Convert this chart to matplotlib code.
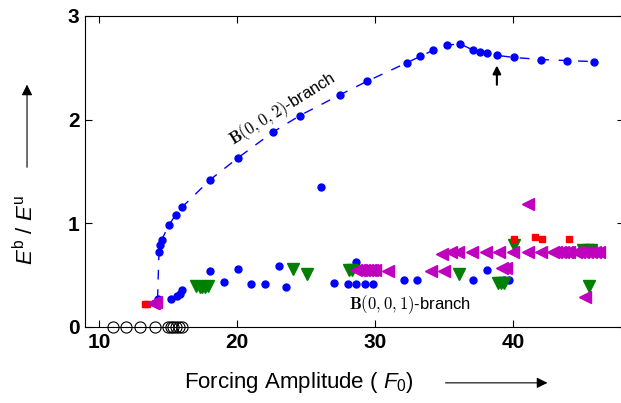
import numpy as np
import matplotlib
matplotlib.use("Agg")
import matplotlib.pyplot as plt

plt.rcParams['font.family'] = ['Liberation Sans', 'DejaVu Sans']
plt.rcParams['mathtext.fontset'] = 'custom'
plt.rcParams['mathtext.rm'] = 'Liberation Sans'
plt.rcParams['mathtext.it'] = 'Liberation Sans:italic'
plt.rcParams['mathtext.bf'] = 'Liberation Sans:bold'

# B(0,0,2) branch (dashed)
f_up = [14.25, 14.35, 14.45, 14.55, 15.05, 15.55, 16.05, 18.05, 20.05, 22.6, 24.55,
        27.45, 29.4, 32.3, 33.25, 34.2, 35.2, 36.15, 37.1, 37.6, 38.1, 38.8,
        40.05, 42.0, 43.9, 45.85]
e_up = [0.27, 0.72, 0.79, 0.84, 0.98, 1.08, 1.16, 1.42, 1.63, 1.88, 2.04,
        2.24, 2.37, 2.55, 2.61, 2.67, 2.72, 2.73, 2.67, 2.65, 2.64, 2.62,
        2.60, 2.58, 2.57, 2.56]

# scattered blue points (lower branch)
f_blue = [15.25, 15.65, 15.85, 16.0, 18.05, 19.05, 20.05, 21.0, 22.05, 23.05, 23.55,
          26.05, 27.05, 28.05, 28.6, 28.6, 29.25, 29.85, 32.05, 33.05, 37.05, 38.05,
          39.3, 39.7]
e_blue = [0.27, 0.30, 0.32, 0.36, 0.54, 0.43, 0.56, 0.41, 0.41, 0.59, 0.39,
          1.35, 0.42, 0.41, 0.63, 0.41, 0.41, 0.41, 0.45, 0.45, 0.45, 0.55,
          0.45, 0.45]

# green triangles
f_green = [17.05, 17.3, 17.5, 17.65, 17.9, 24.05, 25.05, 28.1, 28.3, 36.05,
           38.85, 39.1, 39.35, 40.05, 45.05, 45.4, 45.6, 45.45]
e_green = [0.40, 0.39, 0.39, 0.39, 0.40, 0.56, 0.51, 0.55, 0.55, 0.51,
           0.42, 0.42, 0.42, 0.79, 0.74, 0.74, 0.74, 0.40]

# magenta triangles
f_mag = [13.9, 14.0, 14.1, 28.6, 28.8, 29.0, 29.2, 29.4, 29.6, 29.8, 30.0, 30.95,
         34.0, 34.95, 39.2, 39.45, 41.05, 34.85, 35.45, 36.0, 37.0, 38.0, 38.95,
         40.0, 41.05, 42.0, 42.85, 43.1, 43.35, 43.6, 43.85, 44.05, 44.5, 44.75,
         45.0, 45.3, 45.6, 45.9, 46.2, 45.15]
e_mag = [0.23, 0.23, 0.24, 0.55, 0.55, 0.55, 0.55, 0.55, 0.55, 0.55, 0.55, 0.54,
         0.54, 0.54, 0.57, 0.57, 1.19, 0.70, 0.72, 0.72, 0.72, 0.72, 0.72,
         0.72, 0.72, 0.72, 0.72, 0.72, 0.72, 0.72, 0.72, 0.72, 0.72, 0.72,
         0.72, 0.72, 0.72, 0.72, 0.72, 0.29]

# red squares
f_red = [13.35, 13.5, 40.05, 41.55, 42.05, 44.05, 45.2]
e_red = [0.22, 0.22, 0.85, 0.87, 0.85, 0.85, 0.71]

# open circles at zero
f_zero = [11.0, 12.0, 13.0, 14.05, 15.0, 15.2, 15.4, 15.6, 15.8, 16.0]
e_zero = [0] * len(f_zero)

fig = plt.figure(figsize=(6.21, 4.03), dpi=100)
ax = fig.add_axes([0.1369, 0.1886, 0.868, 0.7717])

ax.plot(f_up, e_up, '--', color='b', lw=1, dashes=(7, 7))
ax.plot(f_up[1:], e_up[1:], 'o', color='b', ms=5, ls='none')
ax.plot(f_blue, e_blue, 'o', color='b', ms=5, ls='none')
ax.plot(f_up[:1], e_up[:1], 'o', color='b', ms=5, ls='none')
ax.plot(f_green, e_green, 'v', color='g', mec='g', ms=9, ls='none')
ax.plot(f_red, e_red, 's', color='r', ms=5, ls='none')
ax.plot(f_mag, e_mag, '<', color='m', ms=9, ls='none')
ax.plot(f_zero, e_zero, 'o', mfc='none', mec='k', ms=8, mew=0.8, ls='none', clip_on=False)

ax.annotate('', xy=(38.8, 2.55), xytext=(38.8, 2.31),
            arrowprops=dict(arrowstyle='-|>', color='k', lw=1.5, mutation_scale=12))

ax.text(23.3, 2.1, r'$\mathbf{B}(0,0,2)$-branch', rotation=32, fontsize=12,
        ha='center', va='center', math_fontfamily='cm')
ax.text(28.1, 0.22, r'$\mathbf{B}(0,0,1)$-branch', fontsize=12,
        ha='left', va='center', math_fontfamily='cm')

ax.set_xlim(9, 48)
ax.set_ylim(0, 3)
ax.set_xticks([10, 20, 30, 40])
ax.set_yticks([0, 1, 2, 3])
ax.tick_params(direction='in', top=True, right=True, length=5, labelsize=15, pad=4)
for lab in ax.get_xticklabels() + ax.get_yticklabels():
    lab.set_fontweight('bold')

fig.text(0.481, 0.052, r'Forcing Amplitude ( $F_0$)', fontsize=16, ha='center', va='center')
fig.text(0.042, 0.43, r'$E^{\rm b}$ / $E^{\rm u}$', fontsize=16, rotation=90,
         ha='center', va='center')
# arrows beside the labels
ax.annotate('', xy=(0.886, 0.05), xytext=(0.713, 0.05), xycoords='figure fraction',
            arrowprops=dict(arrowstyle='-|>', color='k', lw=0.8, mutation_scale=16))
ax.annotate('', xy=(0.0435, 0.797), xytext=(0.0435, 0.578), xycoords='figure fraction',
            arrowprops=dict(arrowstyle='-|>', color='k', lw=0.8, mutation_scale=16))

fig.savefig('out.png', dpi=100)
